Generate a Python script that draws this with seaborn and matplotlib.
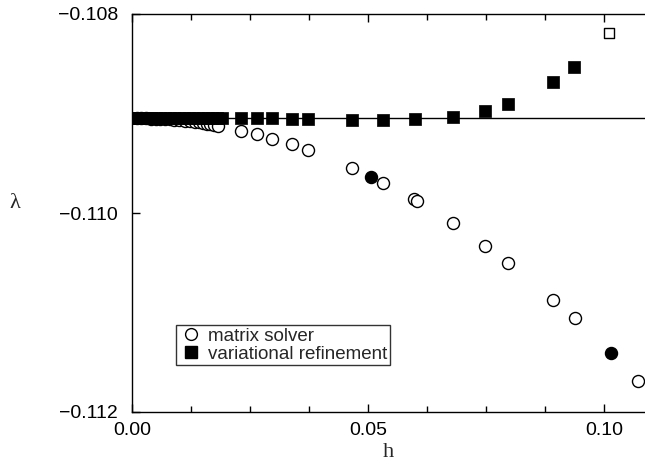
import numpy as np
import pandas as pd
import seaborn as sns
import matplotlib.pyplot as plt
from matplotlib.lines import Line2D
from matplotlib.ticker import MultipleLocator, FuncFormatter

# matrix solver (open circles)
h_matrix = [0.001, 0.002, 0.003, 0.004, 0.005, 0.006, 0.007, 0.008, 0.009, 0.0100,
            0.0112, 0.0122, 0.0133, 0.0142, 0.0150, 0.0158, 0.0165, 0.0174, 0.0182,
            0.0231, 0.0265, 0.0297, 0.0339, 0.0373, 0.0466, 0.0532, 0.0597, 0.0604,
            0.0680, 0.0748, 0.0797, 0.0892, 0.0939, 0.1072]
lam_matrix = [-0.10905, -0.10905, -0.10905, -0.109052, -0.109053, -0.109055, -0.109057,
              -0.10906, -0.109063, -0.109067, -0.109072, -0.109077, -0.109084, -0.10909,
              -0.109096, -0.109102, -0.109108, -0.109116, -0.109124,
              -0.109176, -0.109206, -0.109256, -0.109307, -0.109367, -0.109548, -0.109698,
              -0.109859, -0.109879, -0.110101, -0.110332, -0.110503, -0.110874, -0.111055,
              -0.111688]
# highlighted matrix solver points (filled circles)
h_matrix_hl = [0.0506, 0.1015]
lam_matrix_hl = [-0.109638, -0.111407]

# variational refinement (filled squares)
h_var = [0.0005, 0.001, 0.0015, 0.002, 0.0025, 0.003, 0.0035, 0.004, 0.005, 0.006,
         0.007, 0.008, 0.009, 0.010, 0.011, 0.012, 0.013, 0.014, 0.015, 0.016, 0.017,
         0.018, 0.019, 0.0231, 0.0265, 0.0297, 0.0339, 0.0373, 0.0466, 0.0532, 0.0600,
         0.0680, 0.0748, 0.0797, 0.0892, 0.0936]
lam_var = [-0.10905, -0.10905, -0.10905, -0.10905, -0.10905, -0.10905, -0.10905, -0.10905,
           -0.10905, -0.10905, -0.10905, -0.10905, -0.10905, -0.10905, -0.10905, -0.10905,
           -0.10905, -0.10905, -0.10905, -0.10905, -0.10905, -0.10905, -0.10905,
           -0.109045, -0.109048, -0.109048, -0.109052, -0.109052, -0.109062, -0.109062,
           -0.109058, -0.109038, -0.108975, -0.108905, -0.108683, -0.108533]
# open square
h_var_open = [0.1011]
lam_var_open = [-0.108191]

lam_exact = -0.10905

sns.set_theme(style="ticks")
plt.rcParams["font.family"] = ["Liberation Sans", "DejaVu Sans"]

fig = plt.figure(figsize=(6.45, 4.68), dpi=100)
ax = fig.add_axes([132 / 645, 56 / 468, 513 / 645, 398 / 468])

ax.axhline(lam_exact, color="black", lw=1.0, zorder=1)

sns.scatterplot(x=h_matrix, y=lam_matrix, marker="o", s=75, color="white",
                edgecolor="black", linewidth=1.0, ax=ax, zorder=2)
sns.scatterplot(x=h_matrix_hl, y=lam_matrix_hl, marker="o", s=75, color="black",
                edgecolor="black", linewidth=1.0, ax=ax, zorder=2)
sns.scatterplot(x=h_var, y=lam_var, marker="s", s=70, color="black",
                edgecolor="black", linewidth=0.5, ax=ax, zorder=3)
sns.scatterplot(x=h_var_open, y=lam_var_open, marker="s", s=60, color="white",
                edgecolor="black", linewidth=1.0, ax=ax, zorder=3)


def fmt(decimals):
    return FuncFormatter(lambda v, pos: f"{v:.{decimals}f}".replace("-", "\u2212"))


ax.set_xlim(0, 0.1087)
ax.set_ylim(-0.112, -0.108)
ax.xaxis.set_major_locator(MultipleLocator(0.05))
ax.xaxis.set_minor_locator(MultipleLocator(0.0125))
ax.yaxis.set_major_locator(MultipleLocator(0.002))
ax.xaxis.set_major_formatter(fmt(2))
ax.yaxis.set_major_formatter(fmt(3))
ax.tick_params(which="both", direction="in", top=True, right=False,
               width=1.0, color="black", labelcolor="black")
ax.tick_params(which="major", length=6, labelsize=14)
ax.tick_params(which="minor", length=4)
ax.tick_params(axis="x", pad=7)
ax.tick_params(axis="y", pad=10)
ax.spines["right"].set_visible(False)
for sp in ["left", "top", "bottom"]:
    ax.spines[sp].set_linewidth(1.0)
    ax.spines[sp].set_color("black")

ax.set_xlabel("h", family=["Liberation Serif"], fontsize=16)
ax.xaxis.set_label_coords(0.5, -0.078)
ax.set_ylabel("λ", family=["Liberation Serif"], fontsize=16, rotation=0)
ax.yaxis.set_label_coords(-0.228, 0.5)

handles = [
    Line2D([], [], marker="o", ls="", markersize=8.5, markerfacecolor="white",
           markeredgecolor="black", label="matrix solver"),
    Line2D([], [], marker="s", ls="", markersize=8, markerfacecolor="black",
           markeredgecolor="black", label="variational refinement"),
]
leg = ax.legend(handles=handles, loc="lower left", bbox_to_anchor=(0.086, 0.118),
                fontsize=13.5, frameon=True, fancybox=False, handlelength=1.3,
                handletextpad=0.3, borderpad=0.12, labelspacing=0.05,
                borderaxespad=0)
leg.get_frame().set_edgecolor("black")
leg.get_frame().set_linewidth(1.0)

fig.savefig("out.png", dpi=100)
